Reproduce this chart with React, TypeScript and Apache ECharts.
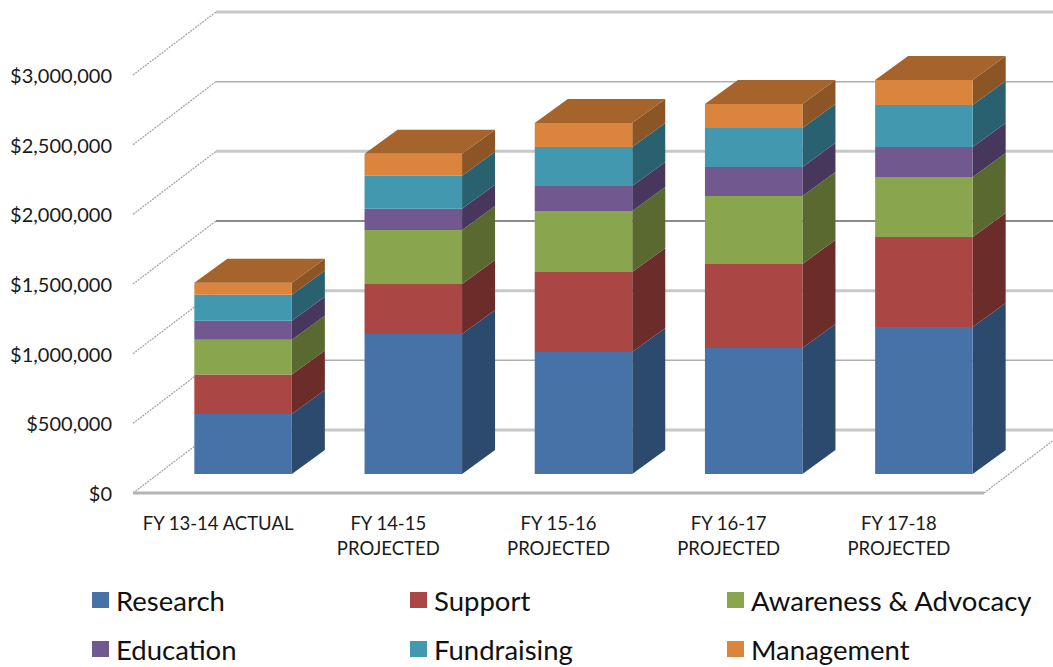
import React, { useEffect, useRef } from "react";
import * as echarts from "echarts";

const categories = [
  "FY 13-14 ACTUAL",
  "FY 14-15\nPROJECTED",
  "FY 15-16\nPROJECTED",
  "FY 16-17\nPROJECTED",
  "FY 17-18\nPROJECTED",
];
const research = [431000, 1005000, 876000, 905000, 1055000];
const support = [284000, 359000, 574000, 603000, 646000];
const awareness = [248000, 388000, 438000, 488000, 431000];
const education = [136000, 151000, 179000, 208000, 215000];
const fundraising = [187000, 237000, 280000, 280000, 302000];
const management = [86000, 158000, 172000, 172000, 179000];
const ticks = [0, 500000, 1000000, 1500000, 2000000, 2500000, 3000000];

const seriesDefs = [
  { name: "Research", values: research, front: "#4672A8", side: "#2C4A6E", top: "" },
  { name: "Support", values: support, front: "#AA4643", side: "#6B2C2A", top: "" },
  { name: "Awareness & Advocacy", values: awareness, front: "#89A54E", side: "#59692F", top: "" },
  { name: "Education", values: education, front: "#71588F", side: "#48375C", top: "" },
  { name: "Fundraising", values: fundraising, front: "#4198AF", side: "#296171", top: "" },
  { name: "Management", values: management, front: "#DB843D", side: "#8B5525", top: "#A5642C" },
];

const WALL_DX = 83;
const WALL_DY = -63;
const BAR_DX = 33;
const BAR_DY = -24;
const BAR_SHIFT_X = 25;
const BAR_SHIFT_Y = -19;
const BAR_RATIO = 0.573;

const gridStyles: Record<number, { stroke: string; lineWidth: number }> = {
  0: { stroke: "#c8c8c8", lineWidth: 3 },
  500000: { stroke: "#aeaeae", lineWidth: 1.5 },
  1000000: { stroke: "#c8c8c8", lineWidth: 3 },
  1500000: { stroke: "#8a8a8a", lineWidth: 2 },
  2000000: { stroke: "#c8c8c8", lineWidth: 3 },
  2500000: { stroke: "#aeaeae", lineWidth: 1.5 },
  3000000: { stroke: "#c8c8c8", lineWidth: 3 },
};

const FONT = "Lato";

function wallItem(params: any, api: any) {
  const v = api.value(1);
  const cs = params.coordSys;
  const y = api.coord([0, v])[1];
  const x0 = cs.x;
  const x1 = cs.x + cs.width;
  const style = gridStyles[v];
  const children: any[] = [
    {
      type: "line",
      shape: { x1: x0, y1: y, x2: x0 + WALL_DX, y2: y + WALL_DY },
      style: { stroke: "#a6a6a6", lineWidth: 1.3, lineDash: [2, 1] },
    },
    {
      type: "line",
      shape: { x1: x0 + WALL_DX, y1: y + WALL_DY, x2: x1 + WALL_DX, y2: y + WALL_DY },
      style: { stroke: style.stroke, lineWidth: style.lineWidth },
    },
  ];
  if (v === 0) {
    children.push(
      {
        type: "line",
        shape: { x1: x0, y1: y, x2: x1, y2: y },
        style: { stroke: "#b4b4b4", lineWidth: 3 },
      },
      {
        type: "line",
        shape: { x1: x1, y1: y, x2: x1 + WALL_DX, y2: y + WALL_DY },
        style: { stroke: "#a6a6a6", lineWidth: 1.3, lineDash: [2, 1] },
      }
    );
  }
  return { type: "group", children };
}

function boxItem(def: (typeof seriesDefs)[number]) {
  return (_params: any, api: any) => {
    const cat = api.value(0);
    const low = api.coord([cat, api.value(1)]);
    const high = api.coord([cat, api.value(2)]);
    const w = api.size([1, 0])[0] * BAR_RATIO;
    const cx = low[0] + BAR_SHIFT_X;
    const l = cx - w / 2;
    const r = cx + w / 2;
    const yLow = low[1] + BAR_SHIFT_Y;
    const yHigh = high[1] + BAR_SHIFT_Y;
    const children: any[] = [
      {
        type: "polygon",
        shape: {
          points: [
            [r, yLow],
            [r + BAR_DX, yLow + BAR_DY],
            [r + BAR_DX, yHigh + BAR_DY],
            [r, yHigh],
          ],
        },
        style: { fill: def.side },
      },
      {
        type: "rect",
        shape: { x: l, y: yHigh, width: w, height: yLow - yHigh },
        style: { fill: def.front },
      },
    ];
    if (def.top) {
      children.push({
        type: "polygon",
        shape: {
          points: [
            [l, yHigh],
            [l + BAR_DX, yHigh + BAR_DY],
            [r + BAR_DX, yHigh + BAR_DY],
            [r, yHigh],
          ],
        },
        style: { fill: def.top },
      });
    }
    return { type: "group", children };
  };
}

const legendCells = [
  { name: "Research", left: 92, top: 586 },
  { name: "Support", left: 410, top: 586 },
  { name: "Awareness & Advocacy", left: 727, top: 586 },
  { name: "Education", left: 92, top: 635 },
  { name: "Fundraising", left: 410, top: 635 },
  { name: "Management", left: 727, top: 635 },
];

export default function App() {
  const ref = useRef<HTMLDivElement>(null);
  useEffect(() => {
    const chart = echarts.init(ref.current!, undefined, { renderer: "svg" });
    const running = categories.map(() => 0);
    const boxSeries = seriesDefs.map((def) => ({
      type: "custom",
      name: def.name,
      coordinateSystem: "cartesian2d",
      renderItem: boxItem(def),
      itemStyle: { color: def.front },
      encode: { x: 0, y: [1, 2] },
      clip: false,
      data: def.values.map((v, i) => {
        const base = running[i];
        running[i] = base + v;
        return [i, base, base + v];
      }),
    }));
    chart.setOption({
      animation: false,
      backgroundColor: "#ffffff",
      grid: { left: 133, right: 69, top: 75, bottom: 174 },
      xAxis: {
        type: "category",
        data: categories,
        axisLine: { show: false },
        axisTick: { show: false },
        axisLabel: {
          interval: 0,
          margin: 17,
          fontFamily: FONT,
          fontSize: 18.5,
          lineHeight: 25,
          color: "#1a1a1a",
        },
      },
      yAxis: {
        type: "value",
        min: 0,
        max: 3000000,
        interval: 500000,
        axisLine: { show: false },
        axisTick: { show: false },
        splitLine: { show: false },
        axisLabel: {
          margin: 21,
          fontFamily: FONT,
          fontSize: 20,
          color: "#1a1a1a",
          padding: [2, 0, 0, 0],
          formatter: (v: number) => "$" + v.toLocaleString("en-US"),
        },
      },
      legend: legendCells.map((c) => ({
        data: [{ name: c.name, icon: "rect" }],
        left: c.left,
        top: c.top,
        padding: 0,
        itemWidth: 17,
        itemHeight: 16,
        selectedMode: false,
        textStyle: {
          fontFamily: FONT,
          fontSize: 27.5,
          color: "#111111",
          padding: [0, 0, 0, 2],
        },
      })),
      series: [
        {
          type: "custom",
          name: "walls",
          coordinateSystem: "cartesian2d",
          renderItem: wallItem,
          encode: { x: 0, y: 1 },
          clip: false,
          silent: true,
          data: ticks.map((t) => [0, t]),
        },
        ...boxSeries,
      ],
    });
    return () => chart.dispose();
  }, []);
  return (
    <div
      ref={ref}
      style={{ position: "absolute", left: 0, top: 0, width: 1053, height: 667 }}
    />
  );
}
